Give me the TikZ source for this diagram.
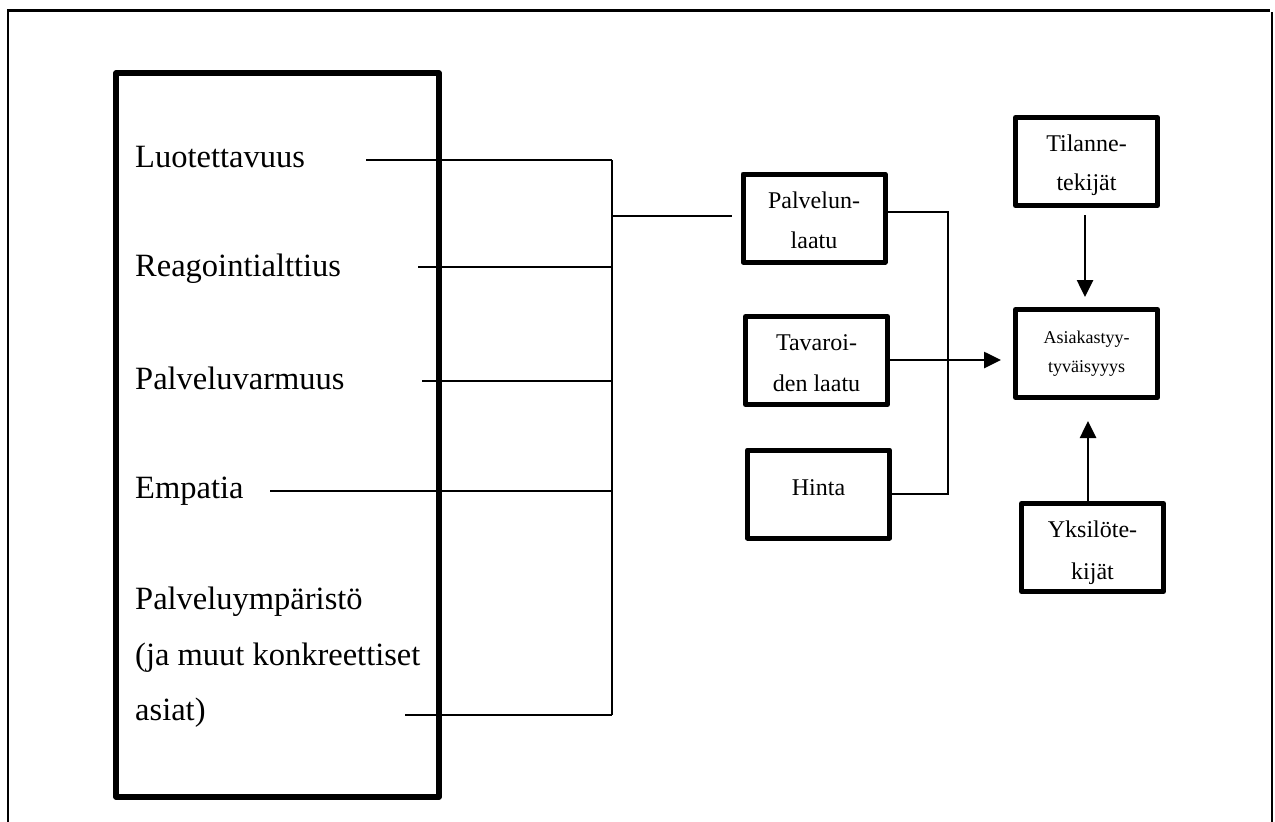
\documentclass[tikz,border=0pt]{standalone}
\usepackage{fontspec}
\setmainfont{Liberation Serif}
\usetikzlibrary{arrows.meta}
\begin{document}
\begin{tikzpicture}[x=1pt,y=-1pt,
  bigbox/.style={draw,line width=5.5pt,line join=round,inner sep=0pt,minimum width=323pt,minimum height=724pt},
  smallbox/.style={draw,line width=5pt,line join=round,inner sep=0pt,minimum width=142pt,minimum height=88pt},
  bigtxt/.style={anchor=base west,inner sep=0pt,font=\fontsize{32.5}{38}\selectfont},
  boxtxt/.style={anchor=base,inner sep=0pt,font=\fontsize{24}{28}\selectfont},
  smalltxt/.style={anchor=base,inner sep=0pt,font=\fontsize{18}{22}\selectfont},
  conn/.style={line width=2.2pt},
  arr/.style={line width=2.6pt,-{Triangle[length=17pt,width=16pt]}},
  framestyle/.style={line width=2.2pt}]
\useasboundingbox (0,0) rectangle (1275,822);
% outer frame
\draw[line width=3pt] (8,10) -- (1270,10);
\draw[framestyle] (8,822) -- (8,9);
\draw[framestyle] (1272,12) -- (1272,822);

% left big box
\node[bigbox] (main) at (277.5,435) {};
\node[bigtxt] (t1) at (135,167) {Luotettavuus};
\node[bigtxt] (t2) at (135,276) {Reagointialttius};
\node[bigtxt] (t3) at (135,389) {Palveluvarmuus};
\node[bigtxt] (t4) at (135,498) {Empatia};
\node[bigtxt] (t5a) at (135,609) {Palveluympäristö};
\node[bigtxt] (t5b) at (135,665) {(ja muut konkreettiset};
\node[bigtxt] (t5c) at (135,720) {asiat)};

% connector start points and bus
\coordinate (s1) at (366,160);
\coordinate (s2) at (418,267);
\coordinate (s3) at (422,381);
\coordinate (s4) at (270,491);
\coordinate (s5) at (405,715);
\coordinate (b1) at (612,160);
\coordinate (b2) at (612,267);
\coordinate (b3) at (612,381);
\coordinate (b4) at (612,491);
\coordinate (b5) at (612,715);
\coordinate (bp) at (612,216);
\coordinate (pe) at (732,216);
\draw[conn] (s1) -- (b1);
\draw[conn] (s2) -- (b2);
\draw[conn] (s3) -- (b3);
\draw[conn] (s4) -- (b4);
\draw[conn] (s5) -- (b5);
\draw[conn] (b1) -- (b5);
\draw[conn] (bp) -- (pe);

% middle boxes
\node[smallbox] (pal) at (814,218) {};
\node[boxtxt] (palt1) at (814,208) {Palvelun-};
\node[boxtxt] (palt2) at (814,248) {laatu};
\node[smallbox] (tav) at (816.5,360.5) {};
\node[boxtxt] (tavt1) at (816.5,350) {Tavaroi-};
\node[boxtxt] (tavt2) at (816.5,391) {den laatu};
\node[smallbox] (hin) at (818.5,494) {};
\node[boxtxt] (hint) at (818.5,495) {Hinta};

% right boxes
\node[smallbox] (til) at (1086.5,161.5) {};
\node[boxtxt] (tilt1) at (1086.5,151) {Tilanne-};
\node[boxtxt] (tilt2) at (1086.5,190) {tekijät};
\node[smallbox] (asi) at (1086.5,353.5) {};
\node[smalltxt] (asit1) at (1086.5,343) {Asiakastyy-};
\node[smalltxt] (asit2) at (1086.5,372) {tyväisyyys};
\node[smallbox] (yks) at (1092.5,547.5) {};
\node[boxtxt] (ykst1) at (1092.5,537) {Yksilöte-};
\node[boxtxt] (ykst2) at (1092.5,579) {kijät};

% collecting line
\coordinate (j1) at (948,212);
\coordinate (j2) at (948,494);
\draw[conn] (pal.east |- j1) -- (j1) -- (j2) -- (hin.east |- j2);

% arrows
\coordinate (a1) at (1001,360);
\draw[arr] (tav.east |- a1) -- (a1);
\coordinate (a2s) at (1085,215);
\coordinate (a2e) at (1085,297);
\draw[arr] (a2s) -- (a2e);
\coordinate (a3e) at (1088,421);
\draw[arr] (yks.north -| a3e) -- (a3e);
\end{tikzpicture}
\end{document}
